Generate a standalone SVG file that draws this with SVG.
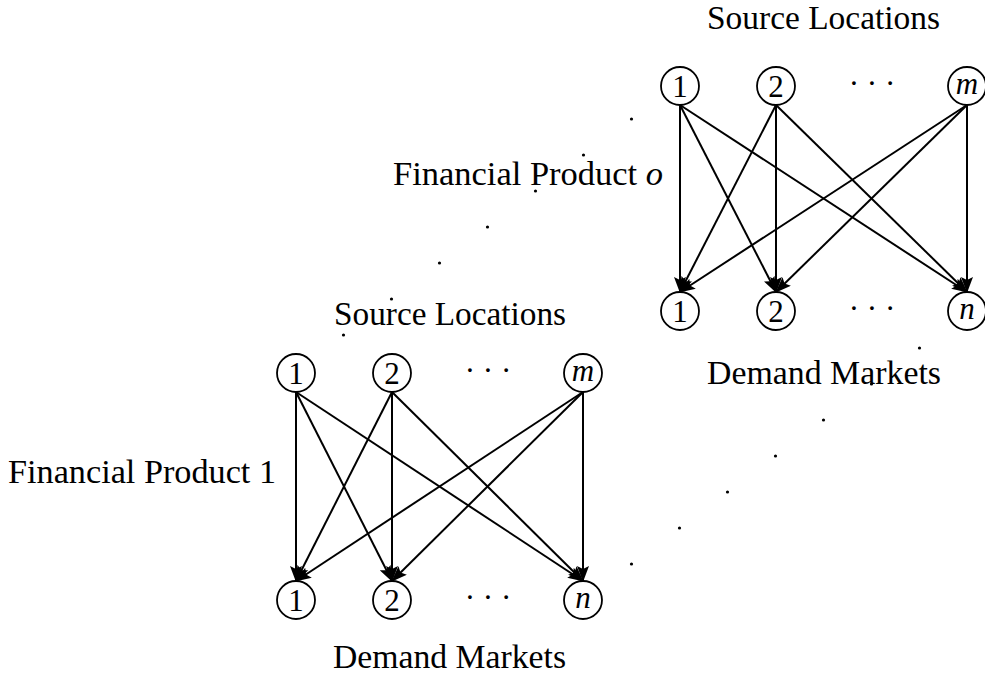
<svg xmlns="http://www.w3.org/2000/svg" width="985" height="676" viewBox="0 0 985 676">
<style>
text{font-family:"Liberation Serif","DejaVu Serif",serif;fill:#000}
.lbl{font-size:33px}
.nd{font-size:31px;text-anchor:middle}
.it{font-style:italic}
circle.n{fill:#fff;stroke:#000;stroke-width:1.8}
.e line{stroke:#000;stroke-width:2;marker-end:url(#ah)}
.dot{fill:#000}
</style>
<defs>
<marker id="ah" viewBox="0 0 16 12" refX="15" refY="6" markerWidth="16" markerHeight="12" markerUnits="userSpaceOnUse" orient="auto">
<path d="M0,0 L16,6 L0,12 L3,6 z" fill="#000"/>
</marker>
</defs>
<rect width="985" height="676" fill="#fff"/>

<!-- labels -->
<text class="lbl" x="707" y="29" textLength="233" lengthAdjust="spacingAndGlyphs">Source Locations</text>
<text class="lbl" x="393" y="185" textLength="270" lengthAdjust="spacingAndGlyphs">Financial Product <tspan class="it">o</tspan></text>
<text class="lbl" x="707" y="384" textLength="234" lengthAdjust="spacingAndGlyphs">Demand Markets</text>
<text class="lbl" x="334" y="325" textLength="232" lengthAdjust="spacingAndGlyphs">Source Locations</text>
<text class="lbl" x="8" y="483" textLength="268" lengthAdjust="spacingAndGlyphs">Financial Product 1</text>
<text class="lbl" x="333" y="668" textLength="233" lengthAdjust="spacingAndGlyphs">Demand Markets</text>

<!-- connectors -->
<g id="connectors" class="e">
<!-- top-right network -->
<line x1="680" y1="105" x2="680" y2="292"/>
<line x1="680" y1="105" x2="776" y2="292"/>
<line x1="680" y1="105" x2="967" y2="292"/>
<line x1="776" y1="105" x2="680" y2="292"/>
<line x1="776" y1="105" x2="776" y2="292"/>
<line x1="776" y1="105" x2="967" y2="292"/>
<line x1="967" y1="105" x2="680" y2="292"/>
<line x1="967" y1="105" x2="776" y2="292"/>
<line x1="967" y1="105" x2="967" y2="292"/>
<!-- bottom-left network -->
<line x1="296" y1="392" x2="296" y2="581"/>
<line x1="296" y1="392" x2="392" y2="581"/>
<line x1="296" y1="392" x2="583" y2="581"/>
<line x1="392" y1="392" x2="296" y2="581"/>
<line x1="392" y1="392" x2="392" y2="581"/>
<line x1="392" y1="392" x2="583" y2="581"/>
<line x1="583" y1="392" x2="296" y2="581"/>
<line x1="583" y1="392" x2="392" y2="581"/>
<line x1="583" y1="392" x2="583" y2="581"/>
</g>

<!-- top-right nodes -->
<g id="tr-s1"><circle class="n" cx="680" cy="86" r="19"/><text class="nd" x="680" y="96.5">1</text></g>
<g id="tr-s2"><circle class="n" cx="776" cy="86" r="19"/><text class="nd" x="776" y="96.5">2</text></g>
<g id="tr-sdots"><text class="nd" x="872" y="94">· · ·</text></g>
<g id="tr-sm"><circle class="n" cx="967" cy="86" r="19"/><text class="nd it" x="967" y="94">m</text></g>
<g id="tr-d1"><circle class="n" cx="680" cy="311" r="19"/><text class="nd" x="680" y="321.5">1</text></g>
<g id="tr-d2"><circle class="n" cx="776" cy="311" r="19"/><text class="nd" x="776" y="321.5">2</text></g>
<g id="tr-ddots"><text class="nd" x="872" y="319">· · ·</text></g>
<g id="tr-dn"><circle class="n" cx="967" cy="311" r="19"/><text class="nd it" x="967" y="319">n</text></g>

<!-- bottom-left nodes -->
<g id="bl-s1"><circle class="n" cx="296" cy="373" r="19"/><text class="nd" x="296" y="383.5">1</text></g>
<g id="bl-s2"><circle class="n" cx="392" cy="373" r="19"/><text class="nd" x="392" y="383.5">2</text></g>
<g id="bl-sdots"><text class="nd" x="488" y="381">· · ·</text></g>
<g id="bl-sm"><circle class="n" cx="583" cy="373" r="19"/><text class="nd it" x="583" y="381">m</text></g>
<g id="bl-d1"><circle class="n" cx="296" cy="600" r="19"/><text class="nd" x="296" y="610.5">1</text></g>
<g id="bl-d2"><circle class="n" cx="392" cy="600" r="19"/><text class="nd" x="392" y="610.5">2</text></g>
<g id="bl-ddots"><text class="nd" x="488" y="608">· · ·</text></g>
<g id="bl-dn"><circle class="n" cx="583" cy="600" r="19"/><text class="nd it" x="583" y="608">n</text></g>

<!-- diagonal ellipsis dots -->
<g id="ellipsis-dots" class="dot">
<circle cx="631.5" cy="119" r="1.6"/>
<circle cx="583.5" cy="155" r="1.6"/>
<circle cx="535.5" cy="191" r="1.6"/>
<circle cx="487.5" cy="227" r="1.6"/>
<circle cx="439.5" cy="263" r="1.6"/>
<circle cx="391.5" cy="299" r="1.6"/>
<circle cx="343.5" cy="335" r="1.6"/>
<circle cx="919.5" cy="348" r="1.6"/>
<circle cx="871.5" cy="384" r="1.6"/>
<circle cx="823.5" cy="420" r="1.6"/>
<circle cx="775.5" cy="456" r="1.6"/>
<circle cx="727.5" cy="492" r="1.6"/>
<circle cx="679.5" cy="528" r="1.6"/>
<circle cx="631.5" cy="564" r="1.6"/>
</g>
</svg>
